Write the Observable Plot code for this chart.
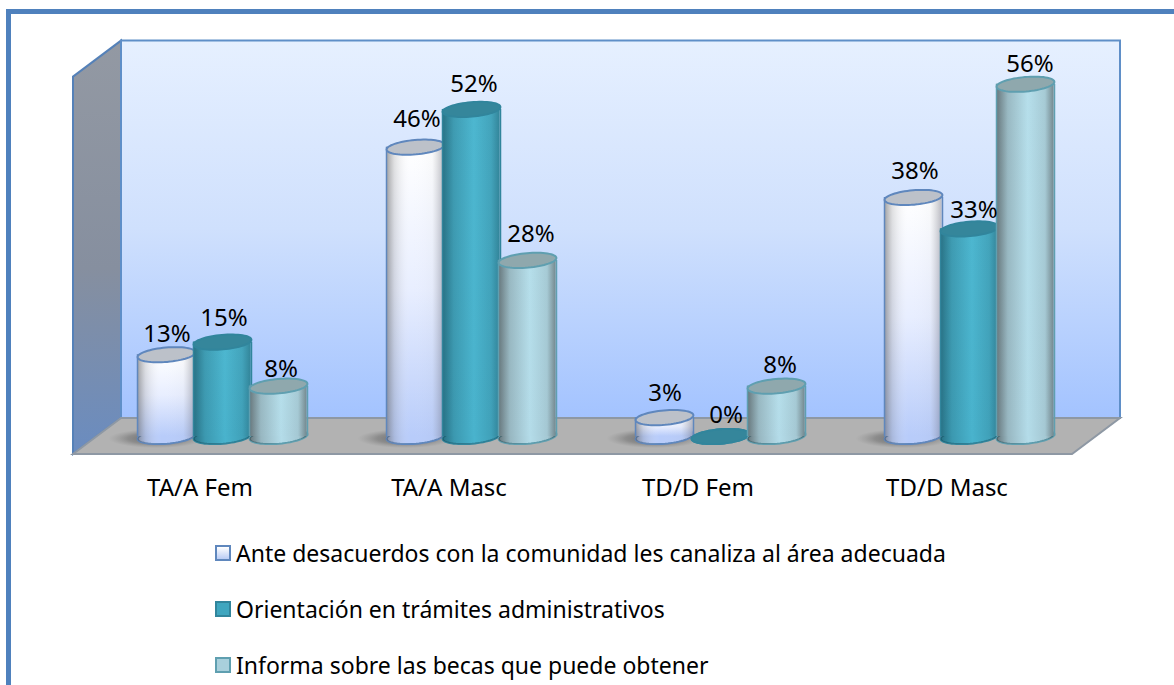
<!doctype html>
<html><head><meta charset="utf-8">
<script src="https://cdn.jsdelivr.net/npm/d3@7"></script>
<script src="https://cdn.jsdelivr.net/npm/@observablehq/plot@0.6"></script>
<style>
html,body{margin:0;padding:0;background:#fff;overflow:hidden}
#page{position:relative;width:1174px;height:685px;overflow:hidden;font-family:"Noto Sans",sans-serif}
#edge{position:absolute;left:6px;top:9px;width:1200px;height:800px;border-left:5px solid #4f81bd;border-top:5px solid #4f81bd}
#chart{position:absolute;left:0;top:0}
#legend{position:absolute;left:215px;top:525px;font-size:23px;color:#000;line-height:56px}
#legend div{display:flex;align-items:center;height:56px;white-space:nowrap}
#legend i{display:inline-block;width:12px;height:12px;margin-right:5px;border:2px solid}
</style></head><body>
<div id="page"><div id="edge"></div><div id="chart"></div><div id="legend"></div></div>
<script>
const categories = ["TA/A Fem","TA/A Masc","TD/D Fem","TD/D Masc"];
const seriesNames = ["Ante desacuerdos con la comunidad les canaliza al área adecuada","Orientación en trámites administrativos","Informa sobre las becas que puede obtener"];
const canaliza = [13,46,3,38];
const orientacion = [15,52,0,33];
const becas = [8,28,8,56];
const seriesValues = [canaliza,orientacion,becas];

const looks = [
 {base:"url(#b0)",shade:"url(#s0)",cap:"#bcc1c9",edge:"#5f87bd",bottom:"#b8ccfa",swatch:"linear-gradient(#fff,#b9ccf5)"},
 {base:"url(#b1)",shade:"url(#s1)",cap:"#35869b",edge:"#31859c",bottom:"#49b3cd",swatch:"#3fa6bf"},
 {base:"url(#b2)",shade:"url(#s2)",cap:"#8fa8ad",edge:"#5f9fb0",bottom:"#b4dce9",swatch:"#a9d0dc"}
];
// hand placement of the data labels, as in the reference: [dx,dy] per series and category
const labelPlacement = [
 [[-1,-20],[0,-28],[-1,-24],[0,-26]],
 [[0,-24],[1,-25],[4,-21],[3,-19]],
 [[1,-17],[2,-26],[2,-21],[3,-20]]
];
const STEP=56, R=29, RY=7.2, TILT=-5*Math.PI/180, SHIFT=-1.5;
const DEPTH_X=24, DEPTH_Y=18;
const capShape={draw(ctx,size){
  const rx=Math.sqrt(size/Math.PI), ry=rx*RY/R, c=Math.cos(TILT), s=Math.sin(TILT);
  for(let a=0;a<=64;a++){const t=a/64*2*Math.PI,px=rx*Math.cos(t),py=ry*Math.sin(t),X=px*c-py*s,Y=px*s+py*c;
    a?ctx.lineTo(X,Y):ctx.moveTo(X,Y);}
  ctx.closePath();
}};
const shadowShape={draw(ctx,size){
  const rx=Math.sqrt(size/Math.PI), ry=rx*0.2;
  for(let a=0;a<=64;a++){const t=a/64*2*Math.PI,X=rx*Math.cos(t),Y=ry*Math.sin(t);a?ctx.lineTo(X,Y):ctx.moveTo(X,Y);}
  ctx.closePath();
}};

function linear(id,stops,vertical){
  return `<linearGradient id="${id}" x1="0" y1="0" x2="${vertical?0:1}" y2="${vertical?1:0}">`+
    stops.map(([o,c,a])=>`<stop offset="${o}" stop-color="${c}" stop-opacity="${a??1}"/>`).join("")+`</linearGradient>`;
}
function chrome(index,scales,values,dim){
  const L=dim.marginLeft,R2=dim.width-dim.marginRight,y0=scales.y(0),yT=scales.y(60);
  const pts=a=>a.map(p=>p.join(",")).join(" ");
  const bl=[L-DEPTH_X,y0+DEPTH_Y],br=[R2-DEPTH_X,y0+DEPTH_Y],
        il=[L+DEPTH_X,y0-DEPTH_Y],ir=[R2+DEPTH_X,y0-DEPTH_Y],
        tl=[L-DEPTH_X,yT+DEPTH_Y],til=[L+DEPTH_X,yT-DEPTH_Y],tir=[R2+DEPTH_X,yT-DEPTH_Y];
  const g=d3.create("svg:g");
  g.html(`<defs>
   ${linear("wall",[[0,"#e6f0ff"],[.5,"#cfe0fd"],[1,"#a3c3ff"]],true)}
   ${linear("side",[[0,"#9399a3"],[.55,"#868f9f"],[1,"#6a8cc0"]],true)}
   ${linear("b0",[[0,"#ffffff"],[.5,"#e8eeff"],[1,"#b8ccfa"]],true)}
   ${linear("s0",[[0,"#555",.55],[.14,"#777",.22],[.42,"#fff",0],[.8,"#888",.04],[1,"#556",.4]])}
   ${linear("b1",[[0,"#4db7d0"],[1,"#49b3cd"]],true)}
   ${linear("s1",[[0,"#0c3a48",.55],[.2,"#0c3a48",.22],[.55,"#0c3a48",0],[.85,"#0c3a48",.15],[1,"#0c3a48",.4]])}
   ${linear("b2",[[0,"#b6dfeb"],[1,"#b4dce9"]],true)}
   ${linear("s2",[[0,"#333",.6],[.2,"#333",.22],[.55,"#333",0],[.85,"#333",.12],[1,"#333",.5]])}
   <radialGradient id="shadow"><stop offset="0" stop-color="#444" stop-opacity=".7"/><stop offset=".6" stop-color="#555" stop-opacity=".4"/><stop offset="1" stop-color="#777" stop-opacity="0"/></radialGradient>
  </defs>`);
  g.append("polygon").attr("points",pts([tl,til,il,bl])).attr("fill","url(#side)").attr("stroke","#5581b8").attr("stroke-width",2);
  g.append("polygon").attr("points",pts([til,tir,ir,il])).attr("fill","url(#wall)").attr("stroke","#5f8fc8").attr("stroke-width",2);
  g.append("polygon").attr("points",pts([il,ir,br,bl])).attr("fill","#b2b2b2").attr("stroke","#8e98a4").attr("stroke-width",2);
  return g.node();
}

const marks=[chrome];
const band=(1174-97-78)/4;
const inset=(band-2*R)/2;
seriesValues.forEach((vals,i)=>{
  const rows=categories.map((c,j)=>({cat:c,value:vals[j]}));
  const solid=rows.filter(d=>d.value>0);
  const dx=(i-1)*STEP+SHIFT, look=looks[i];
  if(i===0) marks.push(Plot.dot(rows,{x:"cat",y:()=>0,dx:dx-10,dy:2,r:48,symbol:shadowShape,fill:"url(#shadow)"}));
  marks.push(
    Plot.dot(rows,{x:"cat",y:()=>0,dx,r:R,symbol:capShape,fill:look.bottom,stroke:look.edge,strokeWidth:2}),
    Plot.dot(solid,{x:"cat",y:()=>0,dx,r:R,symbol:capShape,fill:look.shade}),
    Plot.barY(solid,{x:"cat",y:"value",dx,insetLeft:inset,insetRight:inset,fill:look.base}),
    Plot.barY(solid,{x:"cat",y:"value",dx,insetLeft:inset,insetRight:inset,fill:look.shade}),
    Plot.ruleX(solid,{x:"cat",y1:()=>0,y2:"value",dx:dx-R,stroke:look.edge,strokeWidth:1.5}),
    Plot.ruleX(solid,{x:"cat",y1:()=>0,y2:"value",dx:dx+R,stroke:look.edge,strokeWidth:1.5}),
    Plot.dot(rows,{x:"cat",y:"value",dx,r:R,symbol:capShape,fill:look.cap,stroke:look.edge,strokeWidth:2})
  );
});
seriesValues.forEach((vals,i)=>{
  categories.forEach((c,j)=>{
    const [ox,oy]=labelPlacement[i][j];
    marks.push(Plot.text([{cat:c,value:vals[j]}],{x:"cat",y:"value",text:d=>d.value+"%",dx:(i-1)*STEP+ox,dy:oy,fontSize:24,fill:"#000",lineAnchor:"middle"}));
  });
});
marks.push(Plot.axisX({anchor:"bottom",tickSize:0,tickPadding:42,dx:-24,fontSize:24,fill:"#000",label:null,lineAnchor:"top"}));

const plot=Plot.plot({
  width:1174,height:525,marginLeft:97,marginRight:78,marginTop:58.6,marginBottom:89,
  style:{background:"transparent",fontFamily:"'Noto Sans',sans-serif",overflow:"visible"},
  x:{domain:categories,padding:0,axis:null},
  y:{domain:[0,60],axis:null},
  marks
});
document.getElementById("chart").append(plot);
const lg=d3.select("#legend");
seriesNames.forEach((n,i)=>{
  const row=lg.append("div");
  row.append("i").style("background",looks[i].swatch).style("border-color",looks[i].edge);
  row.append("span").text(n);
});
</script></body></html>
